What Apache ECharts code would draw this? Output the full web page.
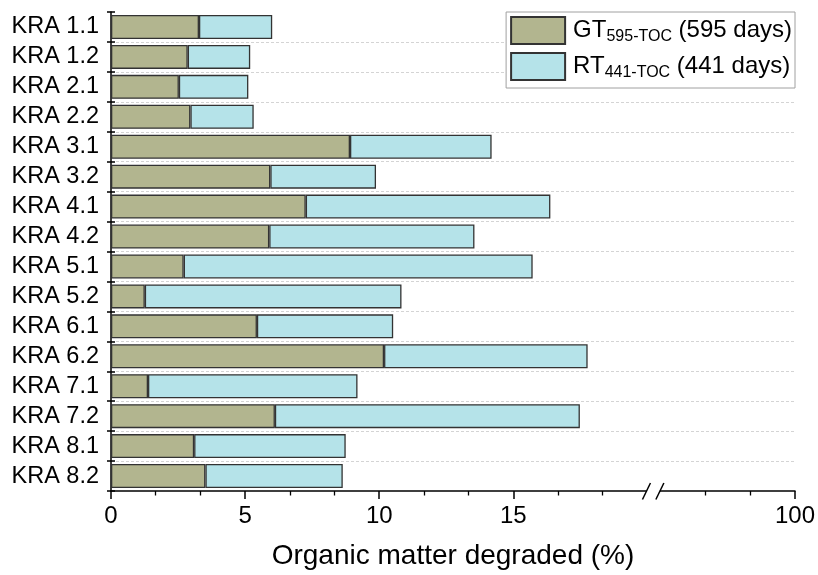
<!DOCTYPE html>
<html>
<head>
<meta charset="utf-8">
<script src="https://cdn.jsdelivr.net/npm/echarts@6/dist/echarts.min.js"></script>
<style>
html,body{margin:0;padding:0;background:#fff;}
#chart{width:818px;height:575px;}
</style>
</head>
<body>
<div id="chart"></div>
<script>
var categories = ['KRA 1.1','KRA 1.2','KRA 2.1','KRA 2.2','KRA 3.1','KRA 3.2','KRA 4.1','KRA 4.2',
                  'KRA 5.1','KRA 5.2','KRA 6.1','KRA 6.2','KRA 7.1','KRA 7.2','KRA 8.1','KRA 8.2'];
var gtValues = [3.28, 2.86, 2.53, 2.96, 8.91, 5.94, 7.26, 5.90, 2.71, 1.26, 5.44, 10.18, 1.38, 6.11, 3.10, 3.52];
var rtValues = [2.73, 2.33, 2.59, 2.36, 5.28, 3.94, 9.12, 7.65, 13.01, 9.57, 5.08, 7.59, 7.81, 11.37, 5.65, 5.12];
var majorTickValues = [0, 5, 10, 15, 100];
var majorTickLabels = ['0', '5', '10', '15', '100'];
var minorTickValues = [1.667, 3.333, 6.667, 8.333, 11.667, 13.333, 16.667, 18.333, 96.667, 98.333];
var seriesNames = ['GT', 'RT'];
var legendMain = ['GT', 'RT'];
var legendSub = ['595-TOC', '441-TOC'];
var legendTail = [' (595 days)', ' (441 days)'];
var xAxisTitle = 'Organic matter degraded (%)';

// axis break: 20 .. 95 collapsed into a small gap
var BREAK_START = 20, BREAK_END = 95, BREAK_GAP = 0.5;
function toAxis(v) { return v <= BREAK_START ? v : v - (BREAK_END - BREAK_START) + BREAK_GAP; }
var axisMax = toAxis(100);

var FONT = 'Liberation Sans, Arial, sans-serif';
var chart = echarts.init(document.getElementById('chart'), null, {renderer: 'canvas'});

var majorPos = majorTickValues.map(toAxis);
var minorPos = minorTickValues.map(toAxis);

var option = {
  animation: false,
  backgroundColor: '#fff',
  grid: {left: 111, right: 23, top: 12, bottom: 83},
  legend: {
    orient: 'vertical',
    right: 23, top: 12,
    data: seriesNames,
    icon: 'rect',
    itemWidth: 54, itemHeight: 27,
    itemGap: 7,
    padding: [4, 3, 7, 4],
    borderColor: '#a0a0a0', borderWidth: 1,
    backgroundColor: '#fff',
    formatter: function (name) {
      var i = seriesNames.indexOf(name);
      return '{m|' + legendMain[i] + '}{s|' + legendSub[i] + '}{m|' + legendTail[i] + '}';
    },
    textStyle: {
      padding: [0, 0, 0, 3],
      rich: {
        m: {fontSize: 24, fontFamily: FONT, color: '#000', lineHeight: 29},
        s: {fontSize: 16, fontFamily: FONT, color: '#000', lineHeight: 16, padding: [13, 0, 0, 0]}
      }
    }
  },
  xAxis: [{
    type: 'value', min: 0, max: axisMax,
    position: 'bottom',
    name: xAxisTitle, nameLocation: 'middle', nameGap: 51,
    nameTextStyle: {fontSize: 28, fontFamily: FONT, color: '#000'},
    axisLine: {show: true, lineStyle: {color: '#000', width: 1.5}},
    axisTick: {show: true, inside: false, length: 8, lineStyle: {color: '#000', width: 1.5}, customValues: majorPos},
    axisLabel: {show: true, margin: 13, fontSize: 24, fontFamily: FONT, color: '#000', customValues: majorPos,
      formatter: function (v) {
        for (var i = 0; i < majorPos.length; i++) if (Math.abs(majorPos[i] - v) < 1e-6) return majorTickLabels[i];
        return '';
      }},
    splitLine: {show: false},
    minorTick: {show: false}
  }, {
    type: 'value', min: 0, max: axisMax,
    position: 'bottom', offset: 0,
    axisLine: {show: false},
    axisTick: {show: true, inside: false, length: 4.5, lineStyle: {color: '#000', width: 1.3}, customValues: minorPos},
    axisLabel: {show: false, customValues: minorPos},
    splitLine: {show: false}
  }],
  yAxis: [{
    type: 'category', data: categories, inverse: true,
    position: 'left',
    axisLine: {show: true, lineStyle: {color: '#000', width: 1.5}},
    axisTick: {show: true, interval: 0, inside: false, length: 4, lineStyle: {color: '#000', width: 1.5}},
    axisLabel: {show: true, interval: 0, margin: 12, fontSize: 23.5, fontFamily: FONT, color: '#000'},
    splitLine: {show: true, interval: 0, showMinLine: false, showMaxLine: false,
      lineStyle: {color: '#d4d4d4', type: [3, 2], width: 1}}
  }, {
    type: 'category', data: categories, inverse: true,
    position: 'left', offset: 0,
    axisLine: {show: false},
    axisTick: {show: true, interval: 0, inside: true, length: 4, lineStyle: {color: '#000', width: 1.5}},
    axisLabel: {show: false, interval: 0},
    splitLine: {show: false}
  }],
  series: [{
    name: seriesNames[0], type: 'bar', stack: 'total',
    xAxisIndex: 0, yAxisIndex: 0,
    barWidth: 24,
    data: gtValues.map(toAxis),
    itemStyle: {color: '#b2b58f', borderColor: '#333', borderWidth: 1.3}
  }, {
    name: seriesNames[1], type: 'bar', stack: 'total',
    xAxisIndex: 0, yAxisIndex: 0,
    barWidth: 24,
    data: rtValues,
    itemStyle: {color: '#b5e3e9', borderColor: '#333', borderWidth: 1.3}
  }]
};
chart.setOption(option);

// axis-break marker "//" on the x axis line
var xa = chart.convertToPixel({xAxisIndex: 0}, BREAK_START);
var xb = chart.convertToPixel({xAxisIndex: 0}, BREAK_START + BREAK_GAP);
var yAxisLine = chart.convertToPixel({yAxisIndex: 0}, categories[categories.length - 1]) + 15;
var c1 = xa - 1, c2 = xb - 1;
chart.setOption({
  graphic: [
    {type: 'rect', shape: {x: c1, y: yAxisLine - 2, width: c2 - c1, height: 4}, style: {fill: '#fff'}, z: 100},
    {type: 'line', shape: {x1: c1 - 4, y1: yAxisLine + 8.5, x2: c1 + 4, y2: yAxisLine - 8}, style: {stroke: '#000', lineWidth: 1.5}, z: 101},
    {type: 'line', shape: {x1: c2 - 4, y1: yAxisLine + 8.5, x2: c2 + 4, y2: yAxisLine - 8}, style: {stroke: '#000', lineWidth: 1.5}, z: 101}
  ]
});
</script>
</body>
</html>
